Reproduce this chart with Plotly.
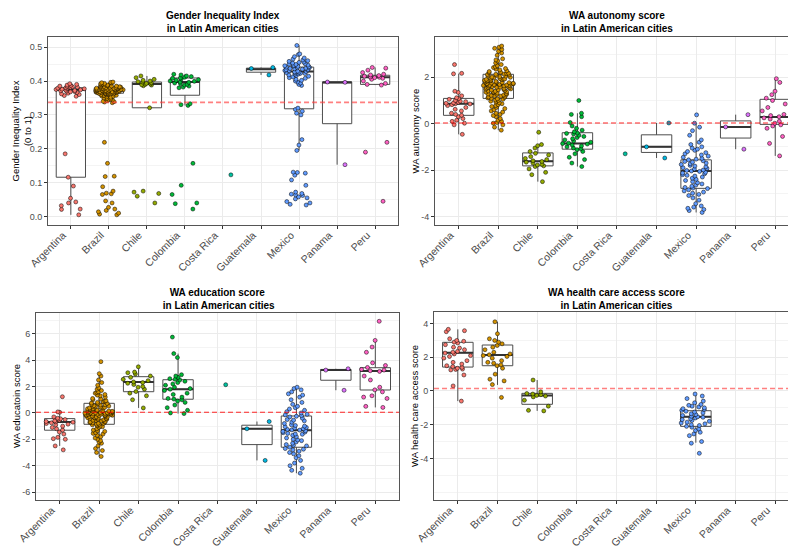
import plotly.graph_objects as go

COUNTRIES = ["Argentina", "Brazil", "Chile", "Colombia", "Costa Rica",
             "Guatemala", "Mexico", "Panama", "Peru"]
COLORS = ["#F8766D", "#D39200", "#93AA00", "#00BA38", "#00C19F",
          "#00B9E3", "#619CFF", "#DB72FB", "#FF61C3"]

# ---- Gender Inequality Index -------------------------------------------
gii_argentina = [0.392, 0.390, 0.388, 0.387, 0.385, 0.384, 0.383, 0.382, 0.381, 0.380,
                 0.379, 0.378, 0.377, 0.376, 0.375, 0.374, 0.373, 0.372, 0.371, 0.370,
                 0.369, 0.368, 0.366, 0.364, 0.362, 0.360, 0.357, 0.355,
                 0.185, 0.116, 0.090, 0.054, 0.043, 0.040, 0.032, 0.022, 0.021, 0.005]
gii_brazil = [0.336, 0.338, 0.339, 0.340, 0.342, 0.344, 0.345, 0.347, 0.348, 0.350,
              0.352, 0.353, 0.355, 0.356, 0.357, 0.358, 0.359, 0.360, 0.361, 0.361,
              0.362, 0.362, 0.363, 0.363, 0.364, 0.364, 0.365, 0.365, 0.366, 0.366,
              0.367, 0.367, 0.367, 0.368, 0.368, 0.368, 0.369, 0.369, 0.369, 0.370,
              0.370, 0.370, 0.371, 0.371, 0.371, 0.372, 0.372, 0.372, 0.373, 0.373,
              0.373, 0.374, 0.374, 0.374, 0.375, 0.375, 0.375, 0.376, 0.376, 0.376,
              0.377, 0.377, 0.378, 0.378, 0.378, 0.379, 0.379, 0.380, 0.380, 0.381,
              0.381, 0.382, 0.382, 0.383, 0.383, 0.384, 0.385, 0.385, 0.386, 0.387,
              0.388, 0.389, 0.390, 0.391, 0.392, 0.393, 0.394, 0.395, 0.396, 0.397,
              0.219, 0.157, 0.119, 0.118, 0.088, 0.075, 0.069, 0.067, 0.065, 0.046,
              0.040, 0.027, 0.022, 0.018, 0.014, 0.010, 0.007, 0.005]
gii_chile = [0.415, 0.410, 0.405, 0.402, 0.400, 0.398, 0.397, 0.395, 0.393, 0.391,
             0.390, 0.389, 0.388, 0.386, 0.321, 0.075, 0.072, 0.068, 0.060, 0.040]
gii_colombia = [0.420, 0.418, 0.415, 0.413, 0.411, 0.409, 0.408, 0.406, 0.404, 0.402,
                0.400, 0.399, 0.397, 0.396, 0.394, 0.392, 0.390, 0.388, 0.385, 0.382,
                0.380, 0.333, 0.330, 0.328, 0.157, 0.092, 0.065, 0.040, 0.038, 0.022]
gii_costa_rica = [0.123]
gii_guatemala = [0.440, 0.437, 0.418]
gii_mexico = [0.505, 0.480, 0.478, 0.472, 0.468, 0.465, 0.462, 0.460, 0.458, 0.456,
              0.455, 0.453, 0.451, 0.450, 0.449, 0.447, 0.446, 0.445, 0.444, 0.443,
              0.442, 0.441, 0.440, 0.439, 0.438, 0.437, 0.436, 0.435, 0.434, 0.433,
              0.432, 0.431, 0.430, 0.429, 0.428, 0.427, 0.426, 0.425, 0.424, 0.423,
              0.422, 0.421, 0.420, 0.418, 0.416, 0.414, 0.412, 0.410, 0.408, 0.405,
              0.402, 0.400, 0.397, 0.394, 0.390, 0.387,
              0.320, 0.316, 0.311, 0.305, 0.300, 0.227, 0.211, 0.195,
              0.131, 0.130, 0.128, 0.122, 0.108, 0.092, 0.072, 0.068, 0.066, 0.064,
              0.062, 0.058, 0.055, 0.052, 0.044, 0.040, 0.036, 0.034]
gii_panama = [0.397, 0.396, 0.153]
gii_peru = [0.440, 0.438, 0.432, 0.425, 0.420, 0.418, 0.416, 0.414, 0.412, 0.411,
            0.410, 0.408, 0.405, 0.400, 0.393, 0.390, 0.388, 0.219, 0.190, 0.045]
gii_q1 = [0.116, 0.364, 0.321, 0.358, None, 0.426, 0.318, 0.274, 0.390]
gii_med = [0.374, 0.372, 0.391, 0.397, None, 0.435, 0.428, 0.396, 0.411]
gii_q3 = [0.380, 0.380, 0.397, 0.409, None, 0.438, 0.441, 0.397, 0.417]
gii_lo = [0.005, 0.338, 0.321, 0.328, None, 0.418, 0.195, 0.153, 0.388]
gii_hi = [0.392, 0.397, 0.415, 0.420, None, 0.440, 0.505, 0.397, 0.440]
gii_ref = 0.337

# ---- WA autonomy score ---------------------------------------------------
aut_argentina = [2.55, 2.17, 2.15, 1.40, 1.35, 1.20, 1.12, 1.08, 1.05, 1.00,
                 0.97, 0.95, 0.92, 0.90, 0.88, 0.86, 0.85, 0.82, 0.78, 0.70,
                 0.62, 0.55, 0.45, 0.40, 0.36, 0.30, 0.22, 0.15, 0.10, 0.02,
                 -0.05, -0.46]
aut_brazil = [3.35, 3.30, 3.25, 3.20, 3.12, 3.05, 2.95, 2.80, 2.75, 2.70,
              2.62, 2.55, 2.50, 2.45, 2.42, 2.38, 2.35, 2.32, 2.28, 2.25,
              2.22, 2.20, 2.18, 2.16, 2.14, 2.13, 2.12, 2.10, 2.08, 2.06,
              2.05, 2.03, 2.01, 2.00, 1.98, 1.96, 1.95, 1.93, 1.91, 1.90,
              1.88, 1.86, 1.85, 1.83, 1.82, 1.80, 1.78, 1.77, 1.75, 1.74,
              1.72, 1.71, 1.70, 1.69, 1.68, 1.67, 1.66, 1.65, 1.64, 1.62,
              1.61, 1.60, 1.58, 1.57, 1.55, 1.53, 1.52, 1.50, 1.48, 1.46,
              1.45, 1.43, 1.41, 1.40, 1.38, 1.36, 1.34, 1.32, 1.30, 1.28,
              1.26, 1.24, 1.22, 1.20, 1.18, 1.15, 1.13, 1.11, 1.09, 1.07,
              1.05, 1.02, 1.00, 0.97, 0.94, 0.90, 0.86, 0.82, 0.78, 0.74,
              0.70, 0.65, 0.60, 0.55, 0.50, 0.45, 0.40, 0.35, 0.30, 0.22,
              0.15, 0.10, 0.05, 0.02, -0.05, -0.15, -0.28,
              1.92, 1.87, 1.79, 1.73, 1.63, 1.56, 1.49, 1.37, 1.27, 1.19]
aut_chile = [-0.37, -0.90, -0.95, -1.05, -1.20, -1.28, -1.35, -1.42, -1.50, -1.55,
             -1.60, -1.63, -1.66, -1.70, -1.75, -1.78, -1.82, -1.85, -1.95, -2.10,
             -2.20, -2.50]
aut_colombia = [1.00, 0.45, 0.40, 0.30, 0.05, -0.10, -0.20, -0.28, -0.35, -0.40,
                -0.42, -0.45, -0.50, -0.55, -0.60, -0.65, -0.70, -0.75, -0.80, -0.84,
                -0.86, -0.88, -0.92, -0.96, -1.00, -1.05, -1.08, -1.12, -1.20, -1.30,
                -1.45, -1.55, -1.70, -1.85]
aut_costa_rica = [-1.30]
aut_guatemala = [0.03, -1.00, -1.48]
aut_mexico = [0.38, 0.02, -0.15, -0.30, -0.50, -0.70, -0.80, -0.90, -1.00, -1.05,
              -1.10, -1.15, -1.20, -1.25, -1.30, -1.35, -1.40, -1.45, -1.50, -1.53,
              -1.56, -1.60, -1.63, -1.66, -1.70, -1.73, -1.76, -1.80, -1.83, -1.86,
              -1.90, -1.93, -1.96, -2.00, -2.02, -2.04, -2.06, -2.10, -2.13, -2.16,
              -2.20, -2.23, -2.26, -2.30, -2.35, -2.40, -2.45, -2.50, -2.55, -2.60,
              -2.65, -2.70, -2.75, -2.78, -2.80, -2.85, -2.90, -2.95, -3.00, -3.05,
              -3.10, -3.20, -3.30, -3.45, -3.55, -3.60, -3.65, -3.70, -3.75, -3.83]
aut_panama = [0.39, -0.14, -1.10]
aut_peru = [1.94, 1.78, 1.40, 1.25, 1.10, 1.00, 0.85, 0.70, 0.55, 0.40,
            0.35, 0.30, 0.25, 0.20, 0.10, 0.02, -0.05, -0.10, -0.20, -0.55,
            -0.85, -1.39]
aut_q1 = [0.36, 1.09, -1.82, -1.10, None, -1.24, -2.79, -0.62, -0.03]
aut_med = [0.86, 1.67, -1.62, -0.85, None, -1.00, -2.04, -0.14, 0.29]
aut_q3 = [1.09, 2.13, -1.26, -0.39, None, -0.48, -1.56, 0.12, 1.05]
aut_lo = [-0.46, -0.28, -2.50, -1.85, None, -1.48, -3.83, -1.10, -1.39]
aut_hi = [2.16, 3.35, -0.90, 0.45, None, 0.03, 0.02, 0.39, 1.94]
aut_ref = 0.03

# ---- WA education score --------------------------------------------------
edu_argentina = [1.23, 0.08, 0.05, -0.30, -0.40, -0.45, -0.50, -0.55, -0.60, -0.65,
                 -0.68, -0.70, -0.75, -0.80, -0.85, -0.90, -1.00, -1.10, -1.20, -1.30,
                 -1.45, -1.60, -1.85, -1.95, -2.00, -2.50, -2.80]
edu_brazil = [3.89, 2.98, 2.80, 2.50, 2.30, 2.10, 1.90, 1.80, 1.70, 1.60,
              1.50, 1.40, 1.30, 1.20, 1.10, 1.00, 0.90, 0.85, 0.80, 0.75,
              0.70, 0.65, 0.60, 0.55, 0.50, 0.45, 0.40, 0.36, 0.32, 0.28,
              0.24, 0.20, 0.17, 0.14, 0.11, 0.08, 0.05, 0.03, 0.01, 0.00,
              -0.02, -0.04, -0.06, -0.08, -0.10, -0.13, -0.16, -0.19, -0.22, -0.25,
              -0.28, -0.32, -0.36, -0.40, -0.45, -0.50, -0.55, -0.60, -0.65, -0.70,
              -0.75, -0.80, -0.85, -0.90, -0.95, -1.00, -1.10, -1.20, -1.30, -1.40,
              -1.50, -1.60, -1.70, -1.80, -1.90, -2.00, -2.10, -2.20, -2.30, -2.50,
              -2.70, -2.85, -3.00, -3.30,
              0.62, 0.48, 0.33, 0.26, 0.18, 0.12, 0.06, 0.02, -0.01, -0.05,
              -0.09, -0.12, -0.18, -0.24, -0.30, -0.38, -0.47, -0.58, -0.68, -0.78,
              0.72, 0.52, 0.38, 0.15, -0.15, -0.35, -0.52, -0.72, 1.05, 1.35,
              -1.05, -1.35, 0.92, 0.42, -0.42, -0.88, 1.55, -1.55, 0.22, -0.20]
edu_chile = [3.50, 3.10, 3.05, 2.95, 2.80, 2.70, 2.55, 2.45, 2.35, 2.30,
             2.25, 2.15, 2.00, 1.95, 1.80, 1.62, 1.50, 1.30, 1.00, 0.38]
edu_colombia = [5.75, 4.50, 4.20, 2.90, 2.80, 2.70, 2.60, 2.55, 2.50, 2.40,
                2.30, 2.20, 2.10, 1.95, 1.85, 1.80, 1.70, 1.50, 1.40, 1.20,
                1.10, 1.05, 1.00, 0.90, 0.80, 0.60, 0.40, 0.20, 0.00, -0.05]
edu_costa_rica = [2.14]
edu_guatemala = [-0.65, -1.20, -3.60]
edu_mexico = [1.95, 1.85, 1.75, 1.60, 1.45, 1.35, 1.20, 1.00, 0.80, 0.65,
              0.50, 0.40, 0.30, 0.20, 0.10, 0.00, -0.10, -0.20, -0.25, -0.30,
              -0.40, -0.50, -0.60, -0.70, -0.80, -0.90, -1.00, -1.05, -1.10, -1.15,
              -1.20, -1.25, -1.30, -1.35, -1.40, -1.45, -1.50, -1.55, -1.60, -1.70,
              -1.80, -1.90, -2.00, -2.10, -2.20, -2.30, -2.40, -2.50, -2.60, -2.70,
              -2.80, -2.90, -3.00, -3.10, -3.25, -3.40, -3.60, -3.80, -4.00, -4.20,
              -4.35, -4.57, -0.95, -1.28, -1.62, -2.05, -2.45, -0.55, -0.15, -2.75]
edu_panama = [3.35, 3.25, 1.72]
edu_peru = [6.95, 5.50, 5.00, 4.60, 3.80, 3.60, 3.45, 3.30, 3.25, 3.20,
            3.15, 2.80, 2.50, 1.95, 1.75, 1.60, 1.30, 1.20, 1.10, 0.50, 0.42]
edu_q1 = [-1.31, -0.86, 1.61, 1.04, None, -2.40, -2.60, 2.48, 1.74]
edu_med = [-0.68, 0.00, 2.35, 1.80, None, -1.20, -1.31, 3.25, 3.18]
edu_q3 = [-0.43, 0.73, 2.75, 2.52, None, -0.93, -0.23, 3.30, 3.43]
edu_lo = [-2.50, -3.30, 0.38, -0.05, None, -3.60, -4.57, 1.72, 0.42]
edu_hi = [0.08, 2.98, 3.50, 4.50, None, -0.65, 1.95, 3.35, 5.50]
edu_ref = 0.05

# ---- WA health care access score ---------------------------------------
hca_argentina = [3.66, 3.58, 3.52, 3.10, 3.00, 2.95, 2.90, 2.85, 2.75, 2.60,
                 2.55, 2.45, 2.35, 2.30, 2.25, 2.20, 2.10, 2.05, 1.95, 1.80,
                 1.70, 1.60, 1.50, 1.45, 1.40, 1.35, 1.30, 1.28, 1.25, 0.95,
                 0.30, -0.60]
hca_brazil = [4.11, 3.40, 3.10, 3.00, 2.90, 2.80, 2.70, 2.60, 2.45, 2.30,
              2.20, 2.15, 2.10, 2.05, 1.95, 1.80, 1.70, 1.65, 1.55, 1.50,
              1.35, 1.00, 0.70, 0.60, 0.38, -0.38]
hca_chile = [0.65, -0.05, -0.15, -0.18, -0.22, -0.26, -0.30, -0.35, -0.55, -0.90,
             -1.15, -1.18]
hca_mexico = [-0.18, -0.30, -0.45, -0.60, -0.70, -0.80, -0.85, -0.90, -0.95, -1.00,
              -1.05, -1.10, -1.15, -1.20, -1.25, -1.30, -1.35, -1.40, -1.45, -1.50,
              -1.53, -1.56, -1.60, -1.65, -1.70, -1.75, -1.80, -1.85, -1.90, -1.95,
              -2.00, -2.05, -2.10, -2.15, -2.25, -2.35, -2.45, -2.55, -2.65, -3.00,
              -3.10, -3.70]
hca_q1 = [1.42, 1.50, -0.79, None, None, None, -2.10, None, None]
hca_med = [2.27, 2.14, -0.26, None, None, None, -1.53, None, None]
hca_q3 = [2.89, 2.73, -0.14, None, None, None, -1.17, None, None]
hca_lo = [-0.60, 0.36, -1.18, None, None, None, -3.07, None, None]
hca_hi = [3.66, 4.11, 0.65, None, None, None, -0.18, None, None]
hca_ref = 0.15

FONT = "Liberation Sans, Arial, sans-serif"
BOX_LINE = "#4D4D4D"

panels = [
    dict(
        title="Gender Inequality Index<br>in Latin American cities",
        ytitle="Gender Inequality Index<br>(0 to 1)",
        points=[gii_argentina, gii_brazil, gii_chile, gii_colombia, gii_costa_rica,
                gii_guatemala, gii_mexico, gii_panama, gii_peru],
        stats=(gii_q1, gii_med, gii_q3, gii_lo, gii_hi), ref=gii_ref,
        ref_style=dict(color="rgba(255,60,60,0.65)", width=1.6),
        split=0.25,
        xdom=[0.0503, 0.4899], ydom=[0.6062, 0.9474], yrange=[-0.025, 0.53],
        tickvals=[0, 0.1, 0.2, 0.3, 0.4, 0.5], ticktext=["0.0", "0.1", "0.2", "0.3", "0.4", "0.5"],
        minor=[0.05, 0.15, 0.25, 0.35, 0.45],
        title_y=1 - 14.5 / 551, ytitle_x=13.5 / 796,
    ),
    dict(
        title="WA autonomy score<br>in Latin American cities",
        ytitle="WA autonomy score",
        points=[aut_argentina, aut_brazil, aut_chile, aut_colombia, aut_costa_rica,
                aut_guatemala, aut_mexico, aut_panama, aut_peru],
        stats=(aut_q1, aut_med, aut_q3, aut_lo, aut_hi), ref=aut_ref,
        ref_style=dict(color="rgba(255,0,0,0.85)", width=1.1),
        split=None,
        xdom=[0.5364, 0.9937], ydom=[0.6062, 0.9474], yrange=[-4.37, 3.74],
        tickvals=[-4, -2, 0, 2], ticktext=["-4", "-2", "0", "2"],
        minor=[-3, -1, 1, 3],
        title_y=1 - 14.5 / 551, ytitle_x=407.5 / 796,
    ),
    dict(
        title="WA education score<br> in Latin American cities",
        ytitle="WA educatoin score",
        points=[edu_argentina, edu_brazil, edu_chile, edu_colombia, edu_costa_rica,
                edu_guatemala, edu_mexico, edu_panama, edu_peru],
        stats=(edu_q1, edu_med, edu_q3, edu_lo, edu_hi), ref=edu_ref,
        ref_style=dict(color="rgba(255,0,0,0.85)", width=1.1),
        split=None,
        xdom=[0.0352, 0.4912], ydom=[0.1071, 0.4465], yrange=[-6.6, 7.58],
        tickvals=[-6, -4, -2, 0, 2, 4, 6],
        ticktext=["-6", "-4", "-2", "0", "2", "4", "6"],
        minor=[-5, -3, -1, 1, 3, 5, 7],
        title_y=1 - 290.5 / 551, ytitle_x=8.5 / 796,
    ),
    dict(
        title="WA health care access score<br>in Latin American cities",
        ytitle="WA health care access score",
        points=[hca_argentina, hca_brazil, hca_chile, [], [], [], hca_mexico, [], []],
        stats=(hca_q1, hca_med, hca_q3, hca_lo, hca_hi), ref=hca_ref,
        ref_style=dict(color="rgba(255,60,60,0.65)", width=1.6),
        split=None,
        xdom=[0.5352, 0.9937], ydom=[0.1071, 0.4483], yrange=[-6.47, 4.69],
        tickvals=[-4, -2, 0, 2, 4], ticktext=["-4", "-2", "0", "2", "4"],
        minor=[-6, -5, -3, -1, 1, 3],
        title_y=1 - 290.5 / 551, ytitle_x=407 / 796,
    ),
]

fig = go.Figure()
layout = dict(
    width=796, height=551, margin=dict(l=0, r=0, t=0, b=0, autoexpand=False),
    paper_bgcolor="white", plot_bgcolor="white", showlegend=False,
    boxmode="overlay", font=dict(family=FONT, color="#000000"),
    annotations=[], shapes=[],
)


def add_points(vals, c, color, xa, ya):
    fig.add_trace(go.Box(
        x=[c] * len(vals), y=vals, name=c,
        boxpoints="all", jitter=1, pointpos=0, width=0.8,
        fillcolor="rgba(0,0,0,0)", line=dict(width=0, color="rgba(0,0,0,0)"),
        marker=dict(color=color, size=4, opacity=1,
                    line=dict(color="#000000", width=0.5)),
        xaxis=xa, yaxis=ya,
    ))


for k, p in enumerate(panels):
    sfx = "" if k == 0 else str(k + 1)
    xa, ya = "x" + sfx, "y" + sfx
    q1, med, q3, lo, hi = p["stats"]

    # boxes from the summary statistics
    for i, c in enumerate(COUNTRIES):
        if q1[i] is None:
            continue
        fig.add_trace(go.Box(
            x=[c], q1=[q1[i]], median=[med[i]], q3=[q3[i]],
            lowerfence=[lo[i]], upperfence=[hi[i]],
            width=0.77, whiskerwidth=0, fillcolor="white",
            line=dict(color=BOX_LINE, width=1), boxpoints=False,
            hoverinfo="skip", xaxis=xa, yaxis=ya,
        ))
    # thicker median segments
    for i, c in enumerate(COUNTRIES):
        if q1[i] is None:
            continue
        fig.add_trace(go.Box(
            x=[c], q1=[med[i]], median=[med[i]], q3=[med[i]],
            lowerfence=[med[i]], upperfence=[med[i]],
            width=0.77, whiskerwidth=0, fillcolor="rgba(0,0,0,0)",
            line=dict(color="#333333", width=2), boxpoints=False,
            hoverinfo="skip", xaxis=xa, yaxis=ya,
        ))
    # jittered observations (long lower tails get their own jitter group)
    for i, c in enumerate(COUNTRIES):
        vals = p["points"][i]
        if not vals:
            continue
        if p["split"] is None:
            add_points(vals, c, COLORS[i], xa, ya)
        else:
            upper = [v for v in vals if v >= p["split"]]
            lower = [v for v in vals if v < p["split"]]
            for grp in (upper, lower):
                if grp:
                    add_points(grp, c, COLORS[i], xa, ya)

    layout["xaxis" + sfx] = dict(
        domain=p["xdom"], anchor=ya, type="category", automargin=False,
        categoryorder="array", categoryarray=COUNTRIES, range=[-0.6, 8.6],
        tickangle=-45, tickfont=dict(size=10.5, color="#4D4D4D"),
        ticklabelshift=-8, ticklabelstandoff=-4,
        ticks="outside", ticklen=3, tickcolor="#333333",
        showgrid=True, gridcolor="#EBEBEB", gridwidth=1,
        showline=True, mirror=True, linecolor="#555555", linewidth=1,
        zeroline=False, fixedrange=True,
    )
    layout["yaxis" + sfx] = dict(
        domain=p["ydom"], anchor=xa, range=p["yrange"], automargin=False,
        tickmode="array", tickvals=p["tickvals"], ticktext=p["ticktext"],
        tickfont=dict(size=9, color="#4D4D4D"),
        ticks="outside", ticklen=3, tickcolor="#333333",
        showgrid=True, gridcolor="#EBEBEB", gridwidth=1,
        minor=dict(tickmode="array", tickvals=p["minor"], showgrid=True,
                   gridcolor="#F4F4F4", gridwidth=0.6, ticks=""),
        showline=True, mirror=True, linecolor="#555555", linewidth=1,
        zeroline=False, fixedrange=True,
    )

    xmid = (p["xdom"][0] + p["xdom"][1]) / 2
    layout["annotations"].append(dict(
        text="<b>" + p["title"] + "</b>", xref="paper", yref="paper",
        x=xmid, y=p["title_y"], xanchor="center", yanchor="middle",
        showarrow=False, font=dict(size=10, color="#000000"),
    ))
    layout["annotations"].append(dict(
        text=p["ytitle"], xref="paper", yref="paper",
        x=p["ytitle_x"], y=(p["ydom"][0] + p["ydom"][1]) / 2,
        xanchor="center", yanchor="middle", textangle=-90,
        showarrow=False, font=dict(size=9.5, color="#000000"),
    ))
    layout["shapes"].append(dict(
        type="line", xref=xa + " domain", yref=ya, x0=0, x1=1,
        y0=p["ref"], y1=p["ref"], layer="above",
        line=dict(dash="5px,3px", **p["ref_style"]),
    ))

fig.update_layout(**layout)
fig.write_html("out.html")
